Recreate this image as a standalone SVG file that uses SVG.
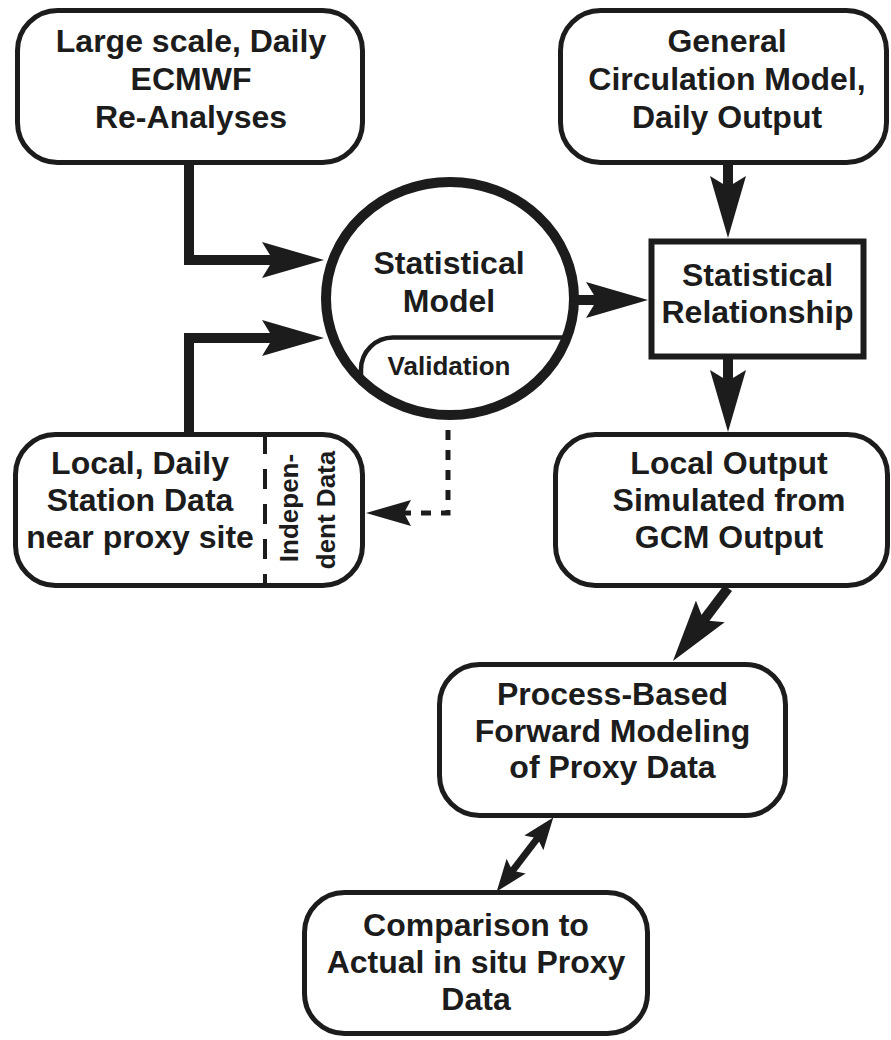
<svg xmlns="http://www.w3.org/2000/svg" width="891" height="1040" viewBox="0 0 891 1040">
<style>
.box{fill:#fff;stroke:#1c1c1c;stroke-width:5}
.t{font-family:"Liberation Sans",Arial,Helvetica,sans-serif;font-weight:bold;font-size:32px;fill:#1c1c1c;text-anchor:middle}
.ts{font-size:26px}
.conn{fill:none;stroke:#1c1c1c;stroke-width:10;stroke-linejoin:miter}
.mid{stroke-width:7}
.dash{fill:none;stroke:#1c1c1c;stroke-width:5;stroke-dasharray:10 10}
.sep{fill:none;stroke:#1c1c1c;stroke-width:4;stroke-dasharray:20 15}
</style>
<defs>
<marker id="big" viewBox="0 0 62 36" markerWidth="62" markerHeight="36" refX="42" refY="18" orient="auto" markerUnits="userSpaceOnUse">
<path d="M0,0 L62,18 L0,36 L11,18 Z" fill="#1c1c1c"/>
</marker>
<marker id="small" viewBox="0 0 32 24" markerWidth="32" markerHeight="24" refX="20" refY="12" orient="auto-start-reverse" markerUnits="userSpaceOnUse">
<path d="M0,0 L32,12 L0,24 L6,12 Z" fill="#1c1c1c"/>
</marker>
<marker id="dhead" viewBox="0 0 45 26" markerWidth="45" markerHeight="26" refX="33" refY="13" orient="auto" markerUnits="userSpaceOnUse">
<path d="M0,0 L45,13 L0,26 L7,13 Z" fill="#1c1c1c"/>
</marker>
</defs>
<rect width="891" height="1040" fill="#fff"/>

<g id="connectors">
<path class="conn" d="M189 165 V260 H304" marker-end="url(#big)"/>
<path class="conn" d="M189 432 V338 H304" marker-end="url(#big)"/>
<path class="conn" d="M575 300 H628" marker-end="url(#big)"/>
<path class="conn" d="M728 165 V218" marker-end="url(#big)"/>
<path class="conn" d="M728 359 V412" marker-end="url(#big)"/>
<path class="conn" d="M728 588 L685 645" marker-end="url(#big)"/>
<path class="conn mid" d="M546 827 L504 882" marker-start="url(#small)" marker-end="url(#small)"/>
<path class="dash" d="M448 430 V513 H378" marker-end="url(#dhead)"/>
</g>

<g id="ecmwf">
<rect class="box" x="17.5" y="10.5" width="345" height="152" rx="40"/>
<text class="t" x="191" y="52">Large scale, Daily</text>
<text class="t" x="191" y="90">ECMWF</text>
<text class="t" x="191" y="128">Re-Analyses</text>
</g>

<g id="gcm">
<rect class="box" x="560.5" y="10.5" width="326" height="152" rx="40"/>
<text class="t" x="727" y="52">General</text>
<text class="t" x="727" y="90">Circulation Model,</text>
<text class="t" x="727" y="128">Daily Output</text>
</g>

<g id="statistical-model">
<ellipse cx="450" cy="298.5" rx="124" ry="116.5" fill="#fff" stroke="#1c1c1c" stroke-width="10"/>
<path d="M567 337.5 H393 A32 32 0 0 0 361 369.5 V381" fill="none" stroke="#1c1c1c" stroke-width="4.5"/>
<text class="t" x="449" y="274">Statistical</text>
<text class="t" x="449" y="312">Model</text>
<text class="t ts" x="449" y="375">Validation</text>
</g>

<g id="statistical-relationship">
<rect x="651.5" y="241.5" width="212" height="115" fill="#fff" stroke="#1c1c1c" stroke-width="6"/>
<text class="t" x="757.5" y="286">Statistical</text>
<text class="t" x="757.5" y="323">Relationship</text>
</g>

<g id="local-station">
<rect class="box" x="15.5" y="434.5" width="347" height="151" rx="40"/>
<path class="sep" d="M265 434 V586"/>
<text class="t" x="140" y="474">Local, Daily</text>
<text class="t" x="140" y="511">Station Data</text>
<text class="t" x="140" y="548">near proxy site</text>
<text class="t ts" transform="translate(298,508) rotate(-90)">Indepen-</text>
<text class="t ts" transform="translate(335,510) rotate(-90)">dent Data</text>
</g>

<g id="local-output">
<rect class="box" x="555.5" y="434.5" width="332" height="151" rx="40"/>
<text class="t" x="729" y="474">Local Output</text>
<text class="t" x="729" y="511">Simulated from</text>
<text class="t" x="729" y="548">GCM Output</text>
</g>

<g id="forward-modeling">
<rect class="box" x="439.5" y="664.5" width="346" height="151" rx="40"/>
<text class="t" x="612.5" y="705">Process-Based</text>
<text class="t" x="612.5" y="742">Forward Modeling</text>
<text class="t" x="612.5" y="778">of Proxy Data</text>
</g>

<g id="comparison">
<rect class="box" x="304.5" y="892.5" width="343" height="141" rx="40"/>
<text class="t" x="476" y="936">Comparison to</text>
<text class="t" x="476" y="973">Actual in situ Proxy</text>
<text class="t" x="476" y="1010">Data</text>
</g>
</svg>
